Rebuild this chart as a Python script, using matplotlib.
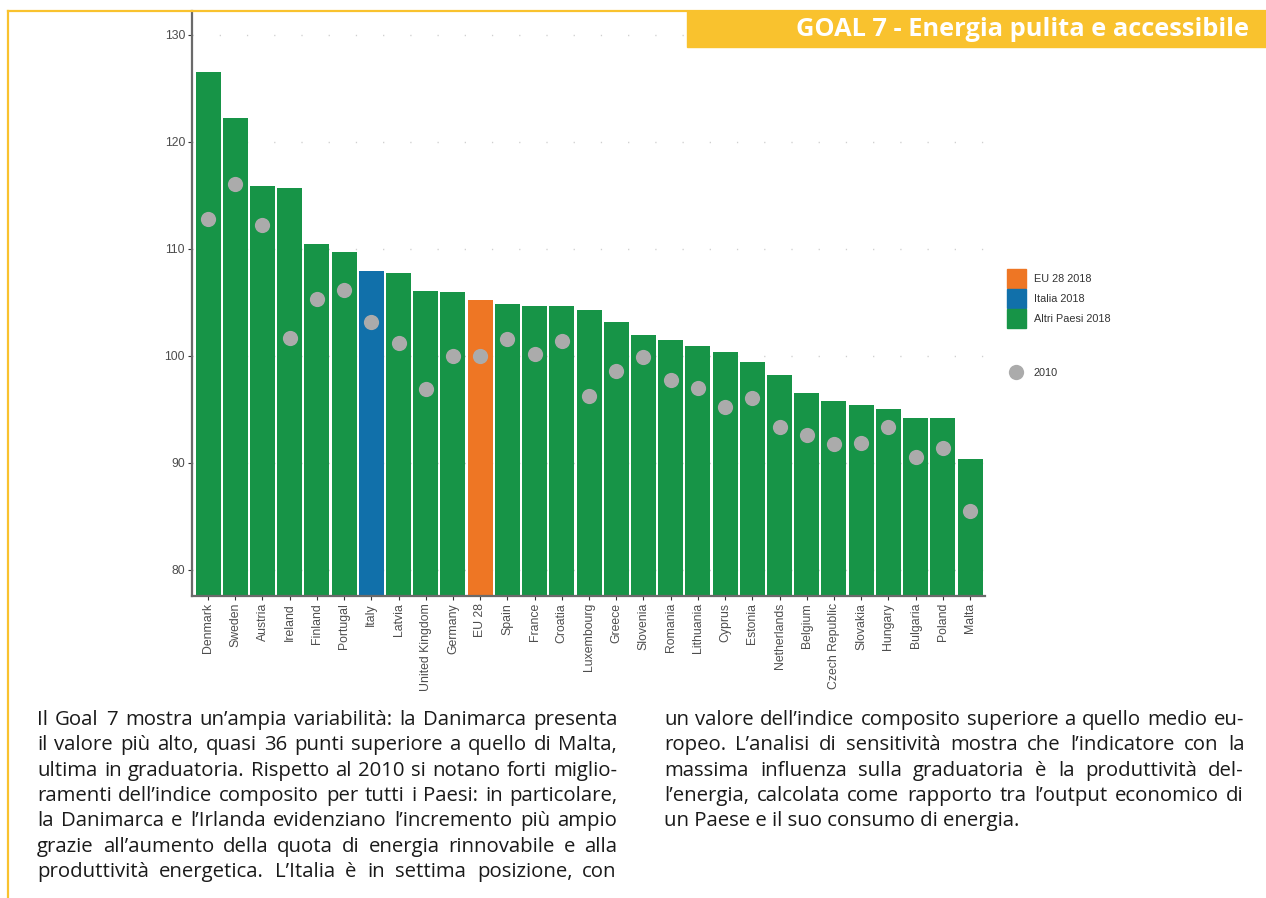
import matplotlib

matplotlib.use('Agg')
import matplotlib.pyplot as plt
from matplotlib.patches import Rectangle, Patch
from matplotlib.lines import Line2D

# --- data (composite index, EU28 2010 = 100) ---
countries = ["Denmark", "Sweden", "Austria", "Ireland", "Finland", "Portugal", "Italy",
             "Latvia", "United Kingdom", "Germany", "EU 28", "Spain", "France", "Croatia",
             "Luxembourg", "Greece", "Slovenia", "Romania", "Lithuania", "Cyprus", "Estonia",
             "Netherlands", "Belgium", "Czech Republic", "Slovakia", "Hungary", "Bulgaria",
             "Poland", "Malta"]
val_2018 = [126.5, 122.2, 115.9, 115.7, 110.5, 109.7, 107.9, 107.8, 106.1, 106.0, 105.2,
            104.9, 104.7, 104.7, 104.3, 103.2, 102.0, 101.5, 100.9, 100.4, 99.4, 98.2,
            96.5, 95.8, 95.4, 95.0, 94.2, 94.2, 90.4]
val_2010 = [112.8, 116.1, 112.2, 101.7, 105.3, 106.2, 103.2, 101.2, 96.9, 100.0, 100.0,
            101.6, 100.2, 101.4, 96.3, 98.6, 99.9, 97.8, 97.0, 95.2, 96.1, 93.4, 92.6,
            91.8, 91.9, 93.4, 90.6, 91.4, 85.5]
y_ticks = [80, 90, 100, 110, 120, 130]

legend_labels = ["EU 28 2018", "Italia 2018", "Altri Paesi 2018"]
dot_label = "2010"

header = "GOAL 7 - Energia pulita e accessibile"
left_col = [
    "Il Goal 7 mostra un\u2019ampia variabilità: la Danimarca presenta",
    "il valore più alto, quasi 36 punti superiore a quello di Malta,",
    "ultima in graduatoria. Rispetto al 2010 si notano forti miglio-",
    "ramenti dell\u2019indice composito per tutti i Paesi: in particolare,",
    "la Danimarca e l\u2019Irlanda evidenziano l\u2019incremento più ampio",
    "grazie all\u2019aumento della quota di energia rinnovabile e alla",
    "produttività energetica. L\u2019Italia è in settima posizione, con",
]
right_col = [
    "un valore dell\u2019indice composito superiore a quello medio eu-",
    "ropeo. L\u2019analisi di sensitività mostra che l\u2019indicatore con la",
    "massima influenza sulla graduatoria è la produttività del-",
    "l\u2019energia, calcolata come rapporto tra l\u2019output economico di",
    "un Paese e il suo consumo di energia.",
]

GREEN = "#179447"
BLUE = "#1170AA"
ORANGE = "#EE7624"
DOT = "#ABABAB"
YELLOW = "#F9C22E"
TICK_COL = "#4D4D4D"

W, H = 1266, 898
fig = plt.figure(figsize=(W / 100, H / 100), dpi=100)
fig.patch.set_facecolor("white")


def fx(px):
    return px / W


def fy(py):
    return 1 - py / H


# --- main chart ---
ax = fig.add_axes([fx(192), fy(596), fx(985) - fx(192), fy(11) - fy(596)])
colors = [BLUE if c == "Italy" else ORANGE if c == "EU 28" else GREEN for c in countries]
xs = list(range(len(countries)))
ax.bar(xs, val_2018, width=0.92, color=colors, zorder=2)
ax.scatter(xs, val_2010, s=120, color=DOT, zorder=3, linewidths=0)

ax.set_xlim(-0.59, len(countries) - 1 + 0.55)
ax.set_ylim(77.57, 132.24)
ax.set_yticks(y_ticks)
ax.set_xticks(xs)
ax.set_xticklabels(countries, rotation=90)
ax.tick_params(axis="both", labelsize=8.8, labelcolor=TICK_COL, color="#333333",
               length=3, width=0.8, pad=2)
for lab in ax.get_xticklabels() + ax.get_yticklabels():
    lab.set_family("Liberation Sans")
ax.yaxis.grid(True, color="#CFCFCF", linestyle=(0, (0.9, 18.7)), linewidth=1.0, zorder=0)
ax.set_axisbelow(True)
for side in ["top", "right"]:
    ax.spines[side].set_visible(False)
for side in ["left", "bottom"]:
    ax.spines[side].set_color("#6A6A6A")
    ax.spines[side].set_linewidth(1.6)

# --- legends ---
leg_font = {"family": "Liberation Sans", "size": 7.8}
bar_handles = [Patch(color=ORANGE), Patch(color=BLUE), Patch(color=GREEN)]
leg1 = fig.legend(bar_handles, legend_labels, loc="upper left",
                  bbox_to_anchor=(fx(1007), fy(269)), frameon=False, prop=leg_font,
                  handlelength=1.75, handleheight=2.3, labelspacing=0.1,
                  handletextpad=0.7, borderpad=0, borderaxespad=0)
for t in leg1.get_texts():
    t.set_color("#333333")
dot_handle = Line2D([], [], marker="o", linestyle="none", markersize=11,
                    markerfacecolor=DOT, markeredgewidth=0)
leg2 = fig.legend([dot_handle], [dot_label], loc="center left",
                  bbox_to_anchor=(fx(1007), fy(373)), frameon=False, prop=leg_font,
                  handlelength=1.75, handletextpad=0.7, borderpad=0, borderaxespad=0)
for t in leg2.get_texts():
    t.set_color("#333333")

# --- page decorations ---
fig.add_artist(Line2D([fx(8), fx(8)], [0, fy(11)], transform=fig.transFigure,
                      color=YELLOW, linewidth=1.6, zorder=5))
fig.add_artist(Line2D([fx(8), 1], [fy(11), fy(11)], transform=fig.transFigure,
                      color=YELLOW, linewidth=1.6, zorder=5))
fig.add_artist(Rectangle((fx(687), fy(47)), 1 - fx(687), fy(11) - fy(47),
                         transform=fig.transFigure, color=YELLOW, zorder=5))
fig.text(fx(1249), fy(29), header, ha="right", va="center", color="white",
         fontsize=18.3, fontweight="bold", family="Open Sans", zorder=6)

# --- justified body text ---
text_kw = dict(family="Open Sans", fontsize=14.7, color="#1A1A1A", va="baseline")
renderer = fig.canvas.get_renderer()


def draw_justified(lines, x0, x1, y0, step, last_left=False):
    for i, line in enumerate(lines):
        y = fy(round(y0 + i * step))
        if last_left and i == len(lines) - 1:
            fig.text(fx(x0), y, line, **text_kw)
            continue
        words = line.split(" ")
        widths = []
        for w in words:
            t = fig.text(0, 0, w, **text_kw)
            widths.append(t.get_window_extent(renderer).width)
            t.remove()
        gap = (x1 - x0 - sum(widths)) / (len(words) - 1)
        x = x0
        for w, wd in zip(words, widths):
            fig.text(fx(round(x)), y, w, **text_kw)
            x += wd + gap


draw_justified(left_col, 37, 617, 725, 25.3)
draw_justified(right_col, 664, 1244, 725, 25.3, last_left=True)

fig.savefig("out.png", dpi=100)
plt.close()
